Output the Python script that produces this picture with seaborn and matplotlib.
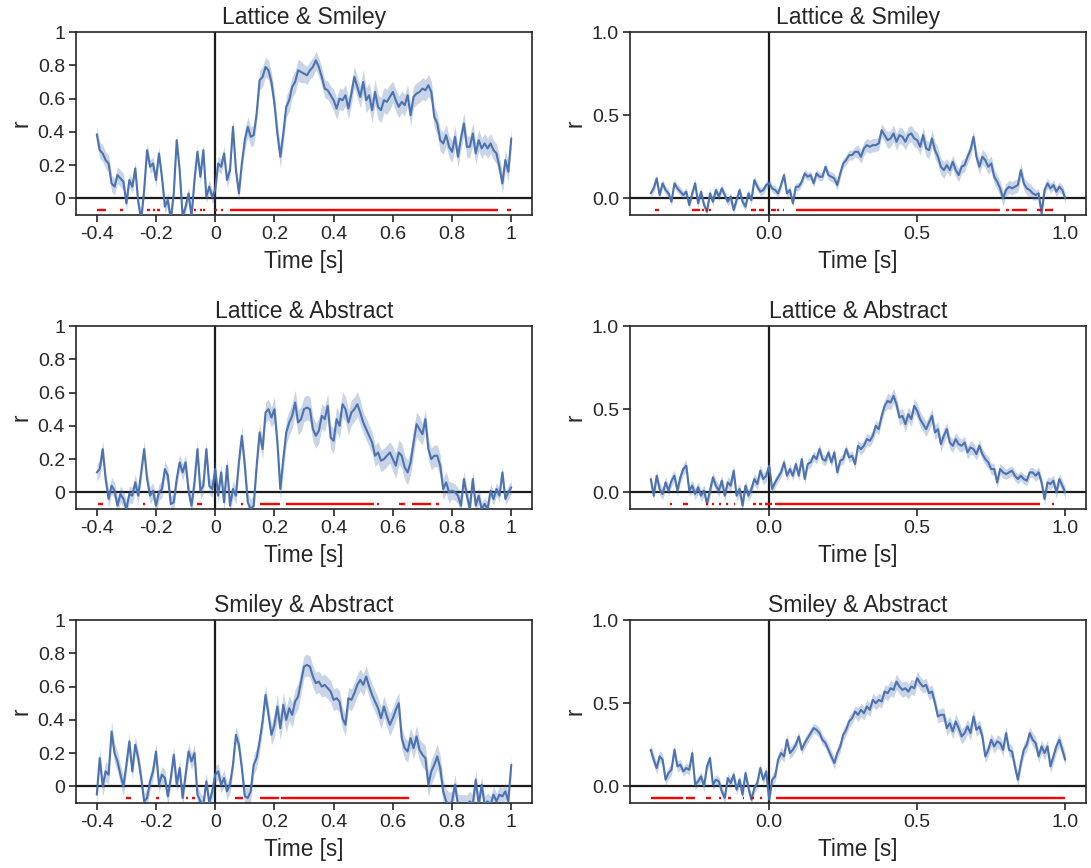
import numpy as np
import pandas as pd
import matplotlib
matplotlib.use('Agg')
import matplotlib.pyplot as plt
import seaborn as sns
from matplotlib.ticker import FuncFormatter

# time axis of the correlation curves (s)
time = np.round(np.arange(-0.40, 1.005, 0.01), 2)

# left column
r_ls_a = [0.385, 0.29, 0.27, 0.23, 0.21, 0.09, 0.07, 0.14, 0.12, 0.10,
          -0.03, 0.11, 0.07, 0.18, -0.02, -0.13, 0.05, 0.29, 0.19, 0.21,
          0.11, 0.27, 0.13, -0.05, -0.01, -0.13, 0.03, 0.35, 0.17, -0.11,
          -0.05, 0.03, -0.11, 0.11, 0.28, 0.13, 0.29, 0.01, 0.07, 0.01,
          0.05, 0.21, 0.19, 0.27, 0.11, 0.17, 0.43, 0.17, 0.03, 0.21,
          0.35, 0.43, 0.37, 0.38, 0.51, 0.71, 0.73, 0.79, 0.77, 0.70,
          0.57, 0.39, 0.25, 0.39, 0.55, 0.59, 0.67, 0.70, 0.77, 0.76,
          0.75, 0.74, 0.77, 0.79, 0.83, 0.79, 0.73, 0.66, 0.65, 0.62,
          0.59, 0.54, 0.60, 0.59, 0.62, 0.54, 0.63, 0.73, 0.67, 0.61,
          0.70, 0.59, 0.62, 0.53, 0.64, 0.55, 0.53, 0.59, 0.58, 0.61,
          0.64, 0.59, 0.55, 0.58, 0.56, 0.62, 0.50, 0.61, 0.63, 0.64,
          0.66, 0.65, 0.68, 0.64, 0.49, 0.45, 0.35, 0.33, 0.38, 0.31,
          0.28, 0.37, 0.25, 0.36, 0.45, 0.31, 0.31, 0.39, 0.27, 0.35,
          0.30, 0.33, 0.30, 0.33, 0.29, 0.27, 0.19, 0.09, 0.23, 0.16,
          0.36]
r_la_a = [0.12, 0.14, 0.26, 0.08, -0.04, 0.04, 0.01, -0.08, -0.01, -0.04,
          -0.10, -0.01, -0.02, 0.06, -0.02, 0.12, 0.26, 0.08, -0.02, 0.01,
          -0.08, 0.00, 0.02, 0.14, 0.10, -0.07, -0.06, 0.08, 0.18, 0.12,
          0.18, 0.01, -0.08, 0.06, 0.26, 0.01, 0.04, 0.26, 0.04, 0.02,
          0.14, -0.02, 0.12, -0.06, 0.16, -0.08, 0.02, -0.02, 0.18, 0.34,
          0.16, -0.06, -0.10, -0.08, 0.16, 0.36, 0.26, 0.48, 0.50, 0.45,
          0.50, 0.30, 0.02, 0.20, 0.36, 0.42, 0.46, 0.54, 0.42, 0.44,
          0.50, 0.51, 0.50, 0.38, 0.34, 0.37, 0.46, 0.44, 0.52, 0.33,
          0.31, 0.44, 0.40, 0.53, 0.50, 0.42, 0.48, 0.50, 0.53, 0.48,
          0.42, 0.38, 0.34, 0.30, 0.22, 0.24, 0.19, 0.20, 0.22, 0.24,
          0.20, 0.16, 0.24, 0.22, 0.15, 0.12, 0.18, 0.30, 0.41, 0.38,
          0.35, 0.44, 0.26, 0.20, 0.22, 0.22, 0.16, 0.02, 0.06, 0.00,
          0.01, 0.00, -0.02, -0.08, 0.08, -0.02, -0.10, 0.08, -0.08, -0.02,
          -0.10, -0.07, -0.10, 0.01, -0.04, 0.02, -0.02, 0.12, -0.04, 0.00,
          0.03]
r_sa_a = [-0.05, 0.17, 0.00, 0.09, 0.07, 0.33, 0.20, 0.15, 0.07, 0.00,
          0.13, 0.27, 0.09, 0.25, 0.17, 0.05, -0.09, -0.07, 0.03, 0.09,
          0.21, 0.01, 0.07, 0.05, -0.06, 0.05, 0.19, 0.01, 0.11, -0.07,
          0.07, 0.21, 0.15, 0.20, -0.05, -0.09, -0.11, 0.03, -0.10, -0.03,
          0.07, 0.09, 0.01, 0.05, -0.03, 0.01, 0.13, 0.31, 0.25, 0.11,
          -0.06, -0.07, -0.03, 0.13, 0.17, 0.27, 0.39, 0.55, 0.43, 0.31,
          0.37, 0.48, 0.35, 0.49, 0.40, 0.47, 0.43, 0.51, 0.54, 0.63,
          0.72, 0.73, 0.72, 0.66, 0.62, 0.63, 0.60, 0.61, 0.59, 0.57,
          0.52, 0.53, 0.51, 0.41, 0.37, 0.53, 0.52, 0.56, 0.61, 0.64,
          0.61, 0.66, 0.60, 0.55, 0.51, 0.47, 0.41, 0.48, 0.42, 0.37,
          0.41, 0.46, 0.50, 0.29, 0.23, 0.21, 0.29, 0.23, 0.30, 0.22,
          0.19, 0.17, 0.01, 0.09, 0.13, 0.18, 0.11, -0.03, -0.09, -0.11,
          -0.09, 0.01, -0.11, -0.11, -0.11, -0.11, -0.09, -0.11, 0.04, -0.11,
          0.01, -0.11, -0.09, -0.11, -0.05, -0.09, -0.05, -0.06, -0.03, -0.09,
          0.13]

# right column
r_ls_b = [0.03, 0.06, 0.12, 0.02, 0.09, 0.05, 0.03, -0.02, 0.09, 0.06,
          0.04, 0.02, 0.04, -0.04, 0.03, 0.09, -0.03, 0.04, -0.04, -0.08,
          0.03, -0.02, 0.05, 0.01, 0.06, 0.02, -0.02, 0.01, -0.07, -0.01,
          0.05, -0.02, -0.05, 0.03, -0.01, 0.11, 0.07, 0.04, 0.05, 0.08,
          0.09, 0.06, 0.05, 0.03, 0.08, 0.14, 0.03, 0.05, -0.03, 0.07,
          0.07, 0.10, 0.15, 0.13, 0.14, 0.09, 0.15, 0.13, 0.13, 0.19,
          0.14, 0.13, 0.12, 0.08, 0.15, 0.21, 0.23, 0.26, 0.26, 0.28,
          0.28, 0.25, 0.30, 0.32, 0.31, 0.32, 0.32, 0.33, 0.41, 0.38,
          0.35, 0.36, 0.39, 0.34, 0.38, 0.37, 0.34, 0.38, 0.39, 0.36,
          0.35, 0.31, 0.38, 0.30, 0.29, 0.36, 0.29, 0.25, 0.19, 0.17,
          0.20, 0.17, 0.22, 0.17, 0.14, 0.19, 0.20, 0.25, 0.29, 0.37,
          0.25, 0.19, 0.25, 0.23, 0.19, 0.21, 0.13, 0.10, 0.06, 0.00,
          0.05, 0.07, 0.06, 0.07, 0.08, 0.17, 0.09, 0.06, 0.05, 0.03,
          0.02, 0.03, -0.09, 0.05, 0.09, 0.06, 0.08, 0.04, 0.07, 0.05,
          0.00]
r_la_b = [0.08, -0.02, 0.10, 0.02, -0.01, 0.06, 0.01, 0.07, 0.10, 0.01,
          0.09, 0.14, 0.16, 0.01, 0.04, -0.01, 0.03, -0.02, 0.01, -0.07,
          0.01, 0.09, 0.04, 0.01, 0.07, -0.02, 0.06, 0.04, 0.13, -0.02,
          0.02, -0.08, 0.04, -0.02, 0.02, 0.08, 0.05, 0.13, 0.08, 0.10,
          0.16, 0.02, 0.06, 0.09, 0.12, 0.18, 0.10, 0.14, 0.10, 0.17,
          0.10, 0.20, 0.08, 0.17, 0.18, 0.22, 0.20, 0.26, 0.20, 0.19,
          0.24, 0.18, 0.24, 0.12, 0.19, 0.20, 0.26, 0.21, 0.22, 0.17,
          0.28, 0.26, 0.28, 0.32, 0.31, 0.34, 0.40, 0.38, 0.46, 0.52,
          0.55, 0.54, 0.58, 0.53, 0.45, 0.46, 0.41, 0.47, 0.44, 0.52,
          0.49, 0.44, 0.41, 0.38, 0.42, 0.46, 0.36, 0.38, 0.29, 0.34,
          0.38, 0.30, 0.28, 0.32, 0.29, 0.28, 0.30, 0.24, 0.27, 0.26,
          0.23, 0.28, 0.23, 0.20, 0.18, 0.14, 0.14, 0.06, 0.14, 0.12,
          0.11, 0.12, 0.13, 0.10, 0.08, 0.10, 0.08, 0.07, 0.12, 0.12,
          0.10, 0.12, 0.06, -0.04, 0.06, 0.05, 0.07, 0.00, 0.08, 0.04,
          0.00]
r_sa_b = [0.22, 0.16, 0.11, 0.18, 0.16, 0.04, 0.08, 0.10, 0.22, 0.12,
          0.13, 0.09, 0.11, 0.10, 0.20, 0.01, 0.03, 0.06, 0.00, 0.12,
          0.17, 0.01, 0.04, 0.03, -0.03, -0.07, 0.05, 0.02, 0.07, -0.02,
          0.04, -0.05, 0.08, -0.01, -0.08, -0.01, 0.02, 0.11, 0.04, 0.09,
          -0.08, 0.04, 0.06, 0.16, 0.20, 0.18, 0.28, 0.20, 0.22, 0.25,
          0.30, 0.22, 0.26, 0.29, 0.32, 0.35, 0.34, 0.32, 0.28, 0.26,
          0.22, 0.18, 0.14, 0.20, 0.24, 0.31, 0.34, 0.39, 0.41, 0.45,
          0.43, 0.46, 0.44, 0.48, 0.46, 0.52, 0.50, 0.52, 0.51, 0.57,
          0.56, 0.59, 0.58, 0.63, 0.60, 0.58, 0.59, 0.57, 0.60, 0.59,
          0.65, 0.62, 0.60, 0.61, 0.56, 0.57, 0.50, 0.42, 0.43, 0.43,
          0.35, 0.38, 0.33, 0.39, 0.35, 0.30, 0.32, 0.36, 0.32, 0.42,
          0.34, 0.36, 0.30, 0.18, 0.22, 0.28, 0.24, 0.27, 0.26, 0.22,
          0.32, 0.22, 0.21, 0.12, 0.04, 0.14, 0.22, 0.25, 0.32, 0.28,
          0.26, 0.18, 0.24, 0.20, 0.24, 0.12, 0.18, 0.24, 0.28, 0.22,
          0.16]

# standard error, one value per 100 ms bin (-0.4..-0.3, ..., 0.9..1.0)
sem_ls_a = [0.05, 0.04, 0.04, 0.04, 0.045, 0.06, 0.065, 0.055, 0.065, 0.075, 0.065, 0.065, 0.065, 0.06]
sem_la_a = [0.05, 0.05, 0.05, 0.05, 0.05, 0.06, 0.075, 0.075, 0.075, 0.065, 0.075, 0.065, 0.05, 0.04]
sem_sa_a = [0.06, 0.05, 0.05, 0.05, 0.05, 0.06, 0.075, 0.065, 0.065, 0.065, 0.065, 0.075, 0.06, 0.05]
sem_ls_b = [0.025, 0.025, 0.025, 0.025, 0.025, 0.025, 0.03, 0.04, 0.05, 0.05, 0.04, 0.045, 0.04, 0.03]
sem_la_b = [0.035, 0.035, 0.035, 0.035, 0.03, 0.03, 0.03, 0.035, 0.045, 0.045, 0.04, 0.035, 0.03, 0.035]
sem_sa_b = [0.035, 0.03, 0.03, 0.03, 0.035, 0.03, 0.035, 0.04, 0.045, 0.04, 0.045, 0.04, 0.04, 0.04]

# significant time windows (start, end) in s
sig_ls_a = [(-0.40, -0.37), (-0.32, -0.31), (-0.23, -0.22), (-0.21, -0.204), (-0.195, -0.188),
            (-0.07, -0.064), (-0.05, -0.044), (-0.04, -0.034), (0.0, 0.006), (0.02, 0.026),
            (0.05, 0.955), (0.985, 1.0)]
sig_la_a = [(-0.395, -0.378), (-0.243, -0.237), (-0.06, -0.045), (0.088, 0.094), (0.15, 0.22),
            (0.24, 0.535), (0.548, 0.554), (0.62, 0.64), (0.665, 0.73), (0.745, 0.755)]
sig_sa_a = [(-0.30, -0.285), (-0.20, -0.19), (-0.10, -0.092), (-0.08, -0.068), (0.067, 0.093),
            (0.152, 0.214), (0.222, 0.655)]
sig_ls_b = [(-0.385, -0.373), (-0.26, -0.235), (-0.226, -0.22), (-0.212, -0.206), (-0.202, -0.196),
            (-0.06, -0.045), (-0.035, -0.017), (0.005, 0.022), (0.028, 0.034), (0.045, 0.051),
            (0.09, 0.78), (0.80, 0.81), (0.82, 0.87), (0.905, 0.92), (0.93, 0.958)]
sig_la_b = [(-0.335, -0.328), (-0.29, -0.275), (-0.212, -0.206), (-0.192, -0.186), (-0.17, -0.164),
            (-0.146, -0.14), (-0.12, -0.114), (-0.055, -0.045), (-0.035, -0.025), (-0.015, 0.01),
            (0.02, 0.915), (0.955, 0.962)]
sig_sa_b = [(-0.40, -0.29), (-0.28, -0.25), (-0.215, -0.195), (-0.17, -0.164), (-0.14, -0.13),
            (-0.09, -0.084), (-0.06, -0.05), (-0.03, -0.024), (0.022, 1.0)]

titles = ['Lattice & Smiley', 'Lattice & Abstract', 'Smiley & Abstract']
left_means = [r_ls_a, r_la_a, r_sa_a]
left_sems = [sem_ls_a, sem_la_a, sem_sa_a]
left_sigs = [sig_ls_a, sig_la_a, sig_sa_a]
right_means = [r_ls_b, r_la_b, r_sa_b]
right_sems = [sem_ls_b, sem_la_b, sem_sa_b]
right_sigs = [sig_ls_b, sig_la_b, sig_sa_b]

sns.set_theme(style='ticks')
plt.rcParams['font.family'] = ['Liberation Sans', 'DejaVu Sans']
plt.rcParams['axes.edgecolor'] = '.15'

blue = sns.color_palette('deep')[0]


def plot_panel(ax, mean, sem_bins, sig, title, left_style):
    mean = np.asarray(mean)
    # look up the sem of the 100 ms bin each sample falls in
    idx = np.minimum(((time + 0.4) / 0.1 + 1e-6).astype(int), len(sem_bins) - 1)
    sem = np.asarray(sem_bins)[idx]

    ax.axhline(0, color='k', lw=1.6, zorder=1)
    ax.axvline(0, color='k', lw=1.6, zorder=1)

    df = pd.DataFrame({'Time [s]': time, 'r': mean})
    ax.fill_between(time, mean - sem, mean + sem, color=blue, alpha=0.3, lw=0, zorder=2)
    sns.lineplot(data=df, x='Time [s]', y='r', ax=ax, color=blue, lw=1.5, zorder=3)

    starts = [s for s, e in sig]
    ends = [e for s, e in sig]
    ax.hlines([-0.07] * len(sig), starts, ends, color='#ff0000', lw=1.7, zorder=4)

    ax.set_ylim(-0.1, 1.0)
    ax.margins(x=0.05)
    if left_style:
        ax.set_xticks([-0.4, -0.2, 0, 0.2, 0.4, 0.6, 0.8, 1.0])
        ax.set_yticks([0, 0.2, 0.4, 0.6, 0.8, 1.0])
        fmt = FuncFormatter(lambda v, p: f'{round(v, 2) + 0:g}')
    else:
        ax.set_xticks([0, 0.5, 1.0])
        ax.set_yticks([0, 0.5, 1.0])
        fmt = FuncFormatter(lambda v, p: f'{v + 0:.1f}')
    ax.xaxis.set_major_formatter(fmt)
    ax.yaxis.set_major_formatter(fmt)
    ax.set_title(title, fontsize=16.5, pad=6)
    ax.set_xlabel('Time [s]', fontsize=16.3, labelpad=5)
    ax.set_ylabel('r', fontsize=16.3)
    ax.tick_params(labelsize=14, length=5, width=1.2, pad=3)
    for sp in ax.spines.values():
        sp.set_linewidth(1.2)


fig, axes = plt.subplots(3, 2, figsize=(10.91, 8.68), dpi=100)
for row in range(3):
    plot_panel(axes[row, 0], left_means[row], left_sems[row], left_sigs[row], titles[row], True)
    plot_panel(axes[row, 1], right_means[row], right_sems[row], right_sigs[row], titles[row], False)

plt.subplots_adjust(left=0.0697, right=0.9954, top=0.9631, bottom=0.0749, wspace=0.215, hspace=0.607)
plt.savefig('out.png', dpi=100)
